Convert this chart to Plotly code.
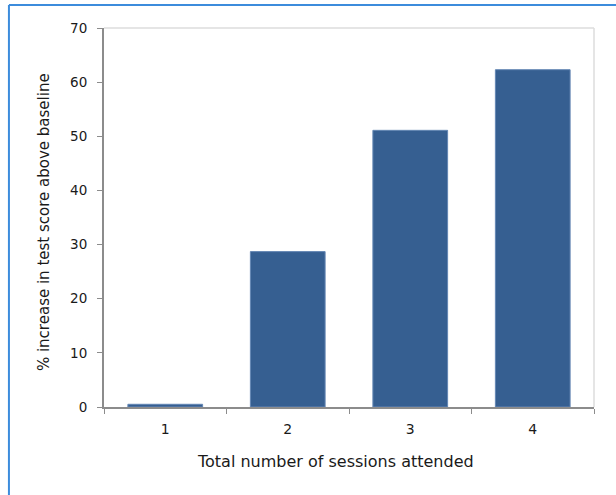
import plotly.graph_objects as go

categories = ["1", "2", "3", "4"]
values = [0.5, 28.7, 51.1, 62.3]
y_ticks = [0, 10, 20, 30, 40, 50, 60, 70]
x_title = "Total number of sessions attended"
y_title = "% increase in test score above baseline"

FONT = "DejaVu Sans"
TXT = "#1a1a1a"

fig = go.Figure(go.Bar(
    x=categories, y=values, width=0.61,
    marker=dict(color="rgb(54,95,145)", line=dict(color="rgb(100,135,180)", width=1)),
))

fig.update_layout(
    width=616, height=495,
    margin=dict(l=104, r=22, t=28, b=88),
    paper_bgcolor="white", plot_bgcolor="white",
    showlegend=False,
    font=dict(family=FONT, color=TXT, size=13),
    xaxis=dict(
        type="category", showline=True, linecolor="#8c8c8c", linewidth=2,
        ticks="outside", ticklen=5, tickcolor="#8c8c8c", tickwidth=1,
        tickson="boundaries", showgrid=False, ticklabelstandoff=8,
        tickfont=dict(size=14, family=FONT, color=TXT),
    ),
    yaxis=dict(
        range=[0, 70], tickvals=y_ticks, showline=True, linecolor="#8c8c8c", linewidth=2,
        ticks="outside", ticklen=5, tickcolor="#8c8c8c", tickwidth=1,
        showgrid=False, zeroline=False, ticklabelstandoff=7,
        tickfont=dict(size=13.5, family=FONT, color=TXT),
    ),
    annotations=[
        dict(text=x_title, xref="paper", yref="paper", x=0.4724, y=-0.1451,
             xanchor="center", yanchor="middle", showarrow=False,
             font=dict(size=16, family=FONT, color=TXT)),
        dict(text=y_title, xref="paper", yref="paper", x=-0.1224, y=0.488,
             xanchor="center", yanchor="middle", showarrow=False, textangle=-90,
             font=dict(size=15, family=FONT, color=TXT)),
    ],
    shapes=[
        dict(type="line", xref="paper", yref="paper", x0=0, x1=1, y0=1, y1=1,
             line=dict(color="#dcdcdc", width=1.5)),
        dict(type="line", xref="paper", yref="paper", x0=1, x1=1, y0=0, y1=1,
             line=dict(color="#dcdcdc", width=1.5)),
        dict(type="line", xref="paper", yref="paper", x0=-0.194, x1=1.1, y0=1.0607, y1=1.0607,
             line=dict(color="rgb(60,140,220)", width=2)),
        dict(type="line", xref="paper", yref="paper", x0=-0.194, x1=-0.194, y0=-0.3, y1=1.0607,
             line=dict(color="rgb(60,140,220)", width=2)),
    ],
)

fig.write_html("out.html", config={"displayModeBar": False},
               post_script="document.body.style.margin='0';")
